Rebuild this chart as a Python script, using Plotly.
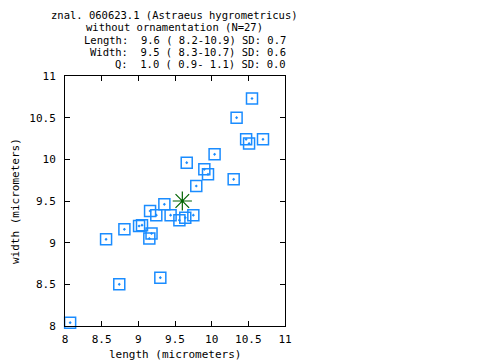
import plotly.graph_objects as go

length = [10.55, 10.34, 10.47, 10.51, 10.70, 10.04, 9.66, 9.90, 9.95, 10.30, 9.79,
          9.355, 9.16, 9.245, 9.44, 9.56, 9.64, 9.75, 8.81, 9.01, 9.05, 9.18, 9.15,
          8.56, 9.30, 8.74, 8.07]
width = [10.73, 10.50, 10.24, 10.19, 10.24, 10.06, 9.96, 9.88, 9.82, 9.76, 9.68,
         9.46, 9.38, 9.33, 9.33, 9.27, 9.30, 9.33, 9.16, 9.20, 9.21, 9.11, 9.05,
         9.04, 8.58, 8.50, 8.04]
mean_length = [9.6]
mean_width = [9.5]

title_lines = [
    "znal. 060623.1 (Astraeus hygrometricus)",
    "without ornamentation (N=27)",
]
stat_lines = [
    "Length:  9.6 ( 8.2-10.9) SD: 0.7",
    "Width:  9.5 ( 8.3-10.7) SD: 0.6",
    "Q:  1.0 ( 0.9- 1.1) SD: 0.0",
]
x_ticks = [8, 8.5, 9, 9.5, 10, 10.5, 11]
y_ticks = [8, 8.5, 9, 9.5, 10, 10.5, 11]

FONT = "DejaVu Sans Mono"
OFF = 8  # default page body margin
FW, FH = 480 - OFF, 360 - OFF

fig = go.Figure()
fig.add_trace(go.Scatter(
    x=length, y=width, mode="markers",
    marker=dict(symbol="square-open-dot", size=11, color="#1a8cff",
                line=dict(width=1.5, color="#1a8cff")),
    showlegend=False, cliponaxis=False))
fig.add_trace(go.Scatter(
    x=mean_length, y=mean_width, mode="markers",
    marker=dict(symbol="asterisk-open", size=16, color="#006400",
                line=dict(width=1.2, color="#006400")),
    showlegend=False, cliponaxis=False))

# plot area in page pixels: x 65.5..284.5, y 76..326
L = 65 - OFF
T = 76 - OFF
R = FW - (285 - OFF)
B = FH - (326 - OFF)
H = FH - T - B
W = FW - L - R

def py(p):
    return (FH - B - (p - OFF)) / H

def px(p):
    return ((p - OFF) - L) / W

TS = 10.5
ann = []
for t, yy in zip(title_lines, [14.5, 27]):
    ann.append(dict(text=t.replace(" ", "\u00a0"), x=px(174), y=py(yy),
                    xref="paper", yref="paper", xanchor="center", yanchor="middle",
                    borderpad=0,
                    showarrow=False, font=dict(family=FONT, size=TS, color="black")))
for t, yy in zip(stat_lines, [39.5, 52, 64.5]):
    ann.append(dict(text=t.replace(" ", "\u00a0"), x=px(287), y=py(yy),
                    xref="paper", yref="paper", xanchor="right", yanchor="middle",
                    borderpad=0,
                    showarrow=False, font=dict(family=FONT, size=TS, color="black")))
ann.append(dict(text="length\u00a0(micrometers)", x=px(175), y=py(354),
                xref="paper", yref="paper", xanchor="center", yanchor="middle",
                borderpad=0,
                showarrow=False, font=dict(family=FONT, size=11, color="black")))
ann.append(dict(text="width\u00a0(micrometers)", x=px(15), y=py(201),
                xref="paper", yref="paper", xanchor="center", yanchor="middle",
                textangle=-90, borderpad=0,
                showarrow=False, font=dict(family=FONT, size=11, color="black")))

axis_common = dict(showgrid=False, zeroline=False, showline=True, linecolor="black",
                   linewidth=1, mirror="ticks", ticks="inside", ticklen=5,
                   tickcolor="black", tickwidth=1,
                   tickfont=dict(family=FONT, size=11, color="black"))
fig.update_xaxes(range=[8, 11], tickvals=x_ticks,
                 ticktext=[f"{v:g}" for v in x_ticks], ticklabelstandoff=3, **axis_common)
fig.update_yaxes(range=[8, 11], tickvals=y_ticks,
                 ticktext=[f"{v:g}" for v in y_ticks], ticklabelstandoff=6, **axis_common)
fig.update_layout(width=FW, height=FH, margin=dict(l=L, r=R, t=T, b=B),
                  paper_bgcolor="white", plot_bgcolor="white", annotations=ann)
fig.write_html("out.html")
